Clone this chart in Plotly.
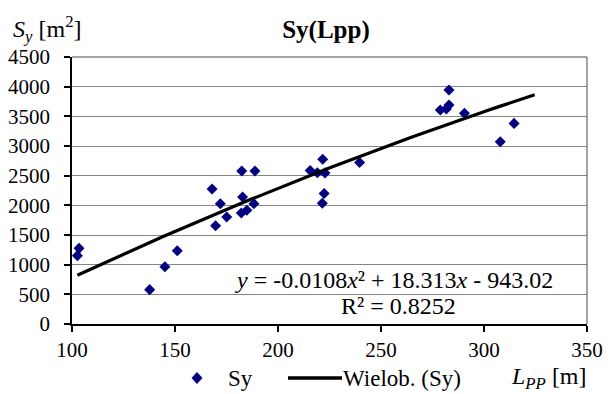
import numpy as np
import plotly.graph_objects as go

# ---- data ----
lpp = [103.4, 102.6, 137.7, 145.1, 151.1, 168.0, 169.7, 172.0, 175.1, 182.4,
       182.8, 182.2, 184.9, 188.8, 188.3, 215.6, 219.1, 222.8, 221.7, 222.4,
       221.5, 239.6, 278.8, 281.7, 283.0, 283.0, 290.5, 307.9, 314.6]
sy = [1275, 1152, 579, 966, 1234, 2276, 1656, 2028, 1803, 2580,
      2141, 1870, 1916, 2580, 2028, 2586, 2550, 2547, 2778, 2198,
      2035, 2722, 3606, 3623, 3690, 3944, 3550, 3071, 3381]

# displayed polynomial trendline (Excel "Wielob.") and its forward forecast
trend_coef = [-0.0108, 18.313, -943.02]
trend_forecast = 10
r_squared = "0.8252"

x_ticks = [100, 150, 200, 250, 300, 350]
y_ticks = [0, 500, 1000, 1500, 2000, 2500, 3000, 3500, 4000, 4500]

series_name = "Sy"
trend_name = "Wielob. (Sy)"

FONT = "Liberation Serif"
NAVY = "#000080"

# plot-area geometry in pixels (for placing the hand-made legend / labels)
L, R, T, B = 72, 587, 57, 324
W, H = R - L, B - T


def px(xp):
    return (xp - L) / W


def py(yp):
    return (B - yp) / H


tx = np.linspace(min(lpp), max(lpp) + trend_forecast, 60)
ty = np.polyval(trend_coef, tx)

fig = go.Figure()
fig.add_trace(go.Scatter(
    x=lpp, y=sy, mode="markers", name=series_name,
    marker=dict(symbol="diamond", size=8.5, color=NAVY),
))
fig.add_trace(go.Scatter(
    x=tx, y=ty, mode="lines", name=trend_name,
    line=dict(color="black", width=3.2),
))

fig.update_layout(
    width=614, height=394,
    margin=dict(l=L, r=614 - R, t=T, b=394 - B),
    paper_bgcolor="white", plot_bgcolor="white",
    font=dict(family=FONT, size=21, color="black"),
    title=dict(text="<b>Sy(Lpp)</b>", x=326 / 614, xanchor="center",
               y=1 - 29 / 394, yanchor="middle",
               font=dict(family=FONT, size=25, color="black")),
    showlegend=False,
)
fig.update_xaxes(
    range=[100, 350], tickvals=x_ticks, showgrid=False, zeroline=False,
    showline=True, linecolor="black", linewidth=1.5,
    ticks="outside", ticklen=6, tickcolor="black", tickwidth=1.5,
    tickfont=dict(family=FONT, size=21), automargin=False,
)
fig.update_yaxes(
    range=[0, 4500], tickvals=y_ticks, showgrid=True, gridcolor="#858585",
    gridwidth=1.4, zeroline=False,
    showline=True, linecolor="black", linewidth=1.5,
    ticks="outside", ticklen=6, tickcolor="black", tickwidth=1.5,
    tickfont=dict(family=FONT, size=21), ticklabelstandoff=10,
    automargin=False,
)
# gray plot-area border on top and right
fig.add_shape(type="line", xref="paper", yref="paper", x0=0, x1=1, y0=1, y1=1,
              line=dict(color="#858585", width=1.5))
fig.add_shape(type="line", xref="paper", yref="paper", x0=1, x1=1, y0=0, y1=1,
              line=dict(color="#858585", width=1.5))

# axis titles
fig.add_annotation(text="<i>S</i><sub><i>y</i></sub> [m<sup>2</sup>]",
                   xref="paper", yref="paper", x=px(11), xanchor="left",
                   y=py(29), yanchor="middle", showarrow=False,
                   font=dict(family=FONT, size=24))
fig.add_annotation(text="<i>L</i><sub><i>PP</i></sub> [m]",
                   xref="paper", yref="paper", x=px(589), xanchor="right",
                   y=py(378), yanchor="middle", showarrow=False,
                   font=dict(family=FONT, size=24))

# trendline equation
fig.add_annotation(text="<i>y</i> = -0.0108<i>x</i>² + 18.313<i>x</i> - 943.02",
                   xref="paper", yref="paper", x=px(394), xanchor="center",
                   y=py(280), yanchor="middle", showarrow=False,
                   font=dict(family=FONT, size=24))
fig.add_annotation(text="R² = " + r_squared,
                   xref="paper", yref="paper", x=px(398), xanchor="center",
                   y=py(306), yanchor="middle", showarrow=False,
                   font=dict(family=FONT, size=24))

# hand-made legend (bottom)
leg_y = 378
fig.add_shape(type="path", xref="paper", yref="paper",
              xsizemode="pixel", ysizemode="pixel",
              xanchor=px(197), yanchor=py(leg_y),
              path="M -5.5 0 L 0 6 L 5.5 0 L 0 -6 Z",
              fillcolor=NAVY, line=dict(color=NAVY, width=0))
fig.add_annotation(text=series_name, xref="paper", yref="paper",
                   x=px(226), xanchor="left", y=py(leg_y), yanchor="middle",
                   showarrow=False, font=dict(family=FONT, size=23))
fig.add_shape(type="line", xref="paper", yref="paper",
              x0=px(288), x1=px(342), y0=py(leg_y), y1=py(leg_y),
              line=dict(color="black", width=3.5))
fig.add_annotation(text=trend_name, xref="paper", yref="paper",
                   x=px(341), xanchor="left", y=py(leg_y), yanchor="middle",
                   showarrow=False, font=dict(family=FONT, size=23))

fig.write_html("out.html")
